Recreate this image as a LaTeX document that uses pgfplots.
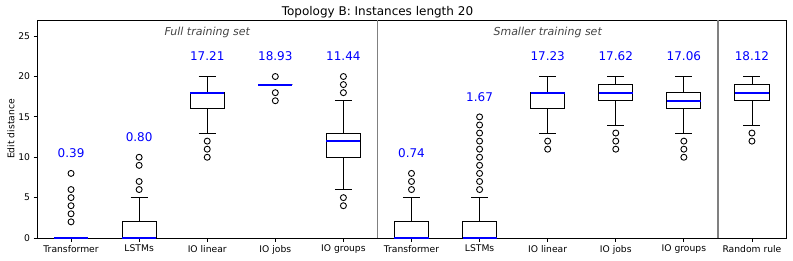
\documentclass[border=0pt]{standalone}
\usepackage{fontspec}
\setmainfont{DejaVu Sans}
\usepackage{pgfplots}
\pgfplotsset{compat=1.18}
\usepgfplotslibrary{statistics}
\usetikzlibrary{calc}
\definecolor{sepgray}{RGB}{128,128,128}
\definecolor{notegray}{RGB}{68,68,68}
\begin{document}
\begin{tikzpicture}
\begin{axis}[
  scale only axis, width=749pt, height=218pt,
  xmin=0.5, xmax=11.5, ymin=0, ymax=27,
  xtick={1,...,11},
  xticklabels={Transformer,LSTMs,IO linear,IO jobs,IO groups,Transformer,LSTMs,IO linear,IO jobs,IO groups,Random rule},
  ytick={0,5,...,25},
  tick align=outside, tick pos=left,
  major tick length=3.5pt,
  tick style={black, line width=0.8pt},
  ticklabel style={font=\fontsize{9.2}{11}\selectfont},
  /pgf/number format/assume math mode=true,
  ylabel={Edit distance}, ylabel style={font=\fontsize{9.2}{11}\selectfont, yshift=-3pt},
  axis line style={black, line width=0.8pt},
  boxplot/draw direction=y,
  boxplot/box extend=0.5, boxplot/whisker extend=0.25,
  boxplot/every median/.style={blue, line width=2pt},
  clip=false,
]
\pgfplotsset{mybox/.style={black, line width=0.9pt, solid, mark=o, mark size=3pt, mark options={black, line width=0.9pt}}}
% Full training set
\addplot[mybox, boxplot prepared={draw position=1, lower whisker=0, lower quartile=0, median=0, upper quartile=0, upper whisker=0}]
  table[row sep=\\, y index=0] {2\\3\\4\\5\\6\\8\\};
\addplot[mybox, boxplot prepared={draw position=2, lower whisker=0, lower quartile=0, median=0, upper quartile=2, upper whisker=5}]
  table[row sep=\\, y index=0] {6\\7\\9\\10\\};
\addplot[mybox, boxplot prepared={draw position=3, lower whisker=13, lower quartile=16, median=18, upper quartile=18, upper whisker=20}]
  table[row sep=\\, y index=0] {10\\11\\12\\};
\addplot[mybox, boxplot prepared={draw position=4, lower whisker=19, lower quartile=19, median=19, upper quartile=19, upper whisker=19}]
  table[row sep=\\, y index=0] {17\\18\\20\\};
\addplot[mybox, boxplot prepared={draw position=5, lower whisker=6, lower quartile=10, median=12, upper quartile=13, upper whisker=17}]
  table[row sep=\\, y index=0] {4\\5\\18\\19\\20\\};
% Smaller training set
\addplot[mybox, boxplot prepared={draw position=6, lower whisker=0, lower quartile=0, median=0, upper quartile=2, upper whisker=5}]
  table[row sep=\\, y index=0] {6\\7\\8\\};
\addplot[mybox, boxplot prepared={draw position=7, lower whisker=0, lower quartile=0, median=0, upper quartile=2, upper whisker=5}]
  table[row sep=\\, y index=0] {6\\7\\8\\9\\10\\11\\12\\13\\14\\15\\};
\addplot[mybox, boxplot prepared={draw position=8, lower whisker=13, lower quartile=16, median=18, upper quartile=18, upper whisker=20}]
  table[row sep=\\, y index=0] {11\\12\\};
\addplot[mybox, boxplot prepared={draw position=9, lower whisker=14, lower quartile=17, median=18, upper quartile=19, upper whisker=20}]
  table[row sep=\\, y index=0] {11\\12\\13\\};
\addplot[mybox, boxplot prepared={draw position=10, lower whisker=13, lower quartile=16, median=17, upper quartile=18, upper whisker=20}]
  table[row sep=\\, y index=0] {10\\11\\12\\};
\addplot[mybox, boxplot prepared={draw position=11, lower whisker=14, lower quartile=17, median=18, upper quartile=19, upper whisker=20}]
  table[row sep=\\, y index=0] {12\\13\\};
% separators
\draw[sepgray, line width=1.2pt] (axis cs:5.5,0) -- (axis cs:5.5,27);
\draw[sepgray, line width=1.2pt] (axis cs:10.5,0) -- (axis cs:10.5,27);
% mean labels
\begin{scope}[every node/.style={blue, font=\fontsize{12}{14}\selectfont}]
\node at (axis cs:1,10.5) {0.39};
\node at (axis cs:2,12.5) {0.80};
\node at (axis cs:3,22.5) {17.21};
\node at (axis cs:4,22.5) {18.93};
\node at (axis cs:5,22.5) {11.44};
\node at (axis cs:6,10.5) {0.74};
\node at (axis cs:7,17.5) {1.67};
\node at (axis cs:8,22.5) {17.23};
\node at (axis cs:9,22.5) {17.62};
\node at (axis cs:10,22.5) {17.06};
\node at (axis cs:11,22.5) {18.12};
\end{scope}
\node[notegray, font=\fontsize{11}{13}\selectfont\itshape] at (axis cs:3,25.5) {Full training set};
\node[notegray, font=\fontsize{11}{13}\selectfont\itshape] at (axis cs:8,25.5) {Smaller training set};
\node[anchor=base, inner sep=0pt, font=\fontsize{12}{14}\selectfont] at ($(axis description cs:0.5,1)+(0,4pt)$) {Topology B: Instances length 20};
\end{axis}
\pgfresetboundingbox
\path[use as bounding box] ($(current axis.south west)+(-37pt,-22pt)$) rectangle ($(current axis.north east)+(7pt,20pt)$);
\end{tikzpicture}
\end{document}
